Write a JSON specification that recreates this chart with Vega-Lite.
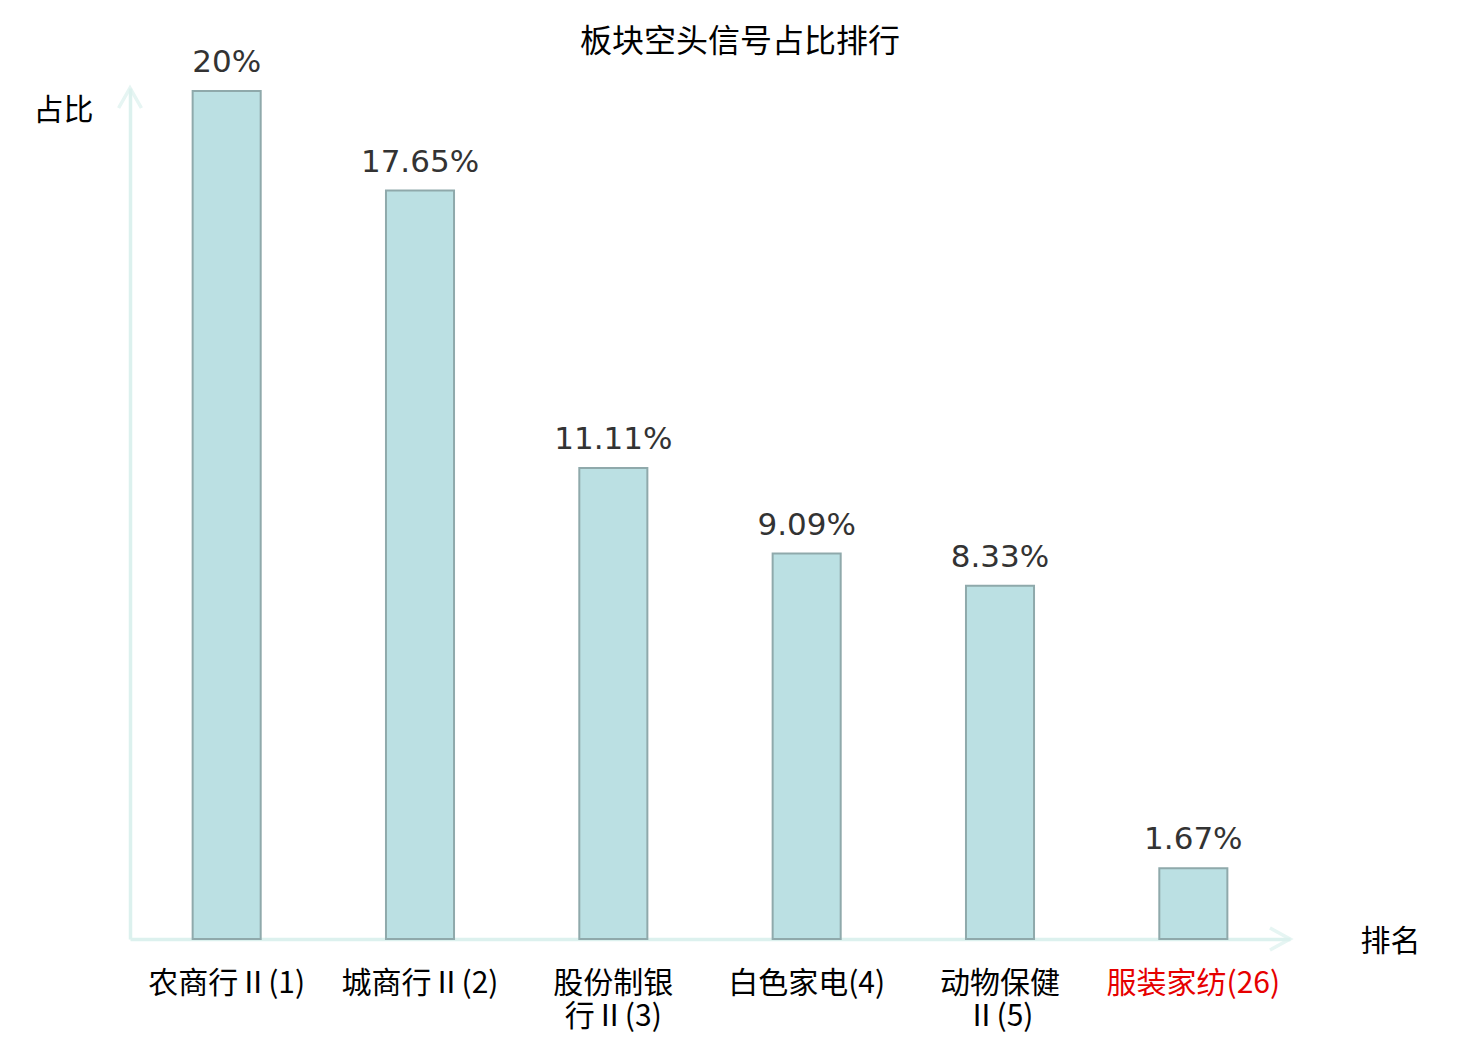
{
  "$schema": "https://vega.github.io/schema/vega-lite/v6.json",
  "autosize": "none",
  "width": 1160,
  "height": 851,
  "padding": {"left": 130, "top": 88, "right": 190, "bottom": 101},
  "background": "white",
  "config": {"view": {"stroke": null}},
  "title": {
    "text": "板块空头信号占比排行",
    "font": "Noto Sans CJK SC",
    "fontSize": 32,
    "fontWeight": "normal",
    "color": "#000000",
    "anchor": "middle",
    "baseline": "alphabetic",
    "dx": 30,
    "offset": -37
  },
  "data": {
    "values": [
      {"sector": "农商行Ⅱ(1)", "pct": 20, "label": "20%"},
      {"sector": "城商行Ⅱ(2)", "pct": 17.65, "label": "17.65%"},
      {"sector": "股份制银|行Ⅱ(3)", "pct": 11.11, "label": "11.11%"},
      {"sector": "白色家电(4)", "pct": 9.09, "label": "9.09%"},
      {"sector": "动物保健|Ⅱ(5)", "pct": 8.33, "label": "8.33%"},
      {"sector": "服装家纺(26)", "pct": 1.67, "label": "1.67%"}
    ]
  },
  "encoding": {
    "x": {
      "field": "sector",
      "type": "nominal",
      "sort": null,
      "scale": {"paddingInner": 0.648, "paddingOuter": 0.324},
      "axis": {
        "title": "排名",
        "titleFont": "Noto Sans CJK SC",
        "titleFontSize": 30,
        "titleFontWeight": "normal",
        "titleColor": "#000000",
        "titleAngle": 0,
        "titleAlign": "center",
        "titleBaseline": "middle",
        "titleX": 1260,
        "titleY": 2,
        "domain": true,
        "domainColor": "#dcf1ee",
        "domainWidth": 3.5,
        "ticks": false,
        "grid": false,
        "labelAngle": 0,
        "labelFont": "Noto Sans CJK SC",
        "labelFontSize": 30,
        "labelLineHeight": 33,
        "labelPadding": 29,
        "labelBaseline": "top",
        "labelColor": {"condition": {"test": "indexof(datum.value, '(26)') >= 0", "value": "#e60000"}, "value": "#000000"},
        "labelExpr": "split(datum.value, '|')"
      }
    },
    "y": {
      "field": "pct",
      "type": "quantitative",
      "scale": {"domain": [0, 20.07], "nice": false, "zero": true},
      "axis": {
        "title": "占比",
        "titleFont": "Noto Sans CJK SC",
        "titleFontSize": 30,
        "titleFontWeight": "normal",
        "titleColor": "#000000",
        "titleAngle": 0,
        "titleAlign": "center",
        "titleBaseline": "middle",
        "titleX": -67,
        "titleY": 22,
        "domain": true,
        "domainColor": "#dcf1ee",
        "domainWidth": 3.5,
        "ticks": false,
        "labels": false,
        "grid": false
      }
    }
  },
  "layer": [
    {
      "mark": {"type": "bar", "fill": "#bbe0e3", "stroke": "#8fa9ab", "strokeWidth": 2}
    },
    {
      "mark": {"type": "text", "font": "DejaVu Sans", "fontSize": 31, "color": "#333333", "baseline": "alphabetic", "dy": -19},
      "encoding": {"text": {"field": "label"}}
    },
    {
      "data": {"values": [{"axis": "x"}]},
      "mark": {"type": "point", "shape": "M-1,-0.55L0,0L-1,0.55", "size": 1600, "filled": false, "stroke": "#dcf1ee", "strokeWidth": 3.5},
      "encoding": {"x": {"value": "width"}, "y": {"value": "height"}}
    },
    {
      "data": {"values": [{"axis": "y"}]},
      "mark": {"type": "point", "shape": "M-0.57,1L0,0L0.57,1", "size": 1600, "filled": false, "stroke": "#dcf1ee", "strokeWidth": 3.5},
      "encoding": {"x": {"value": 0}, "y": {"value": 0}}
    }
  ]
}
